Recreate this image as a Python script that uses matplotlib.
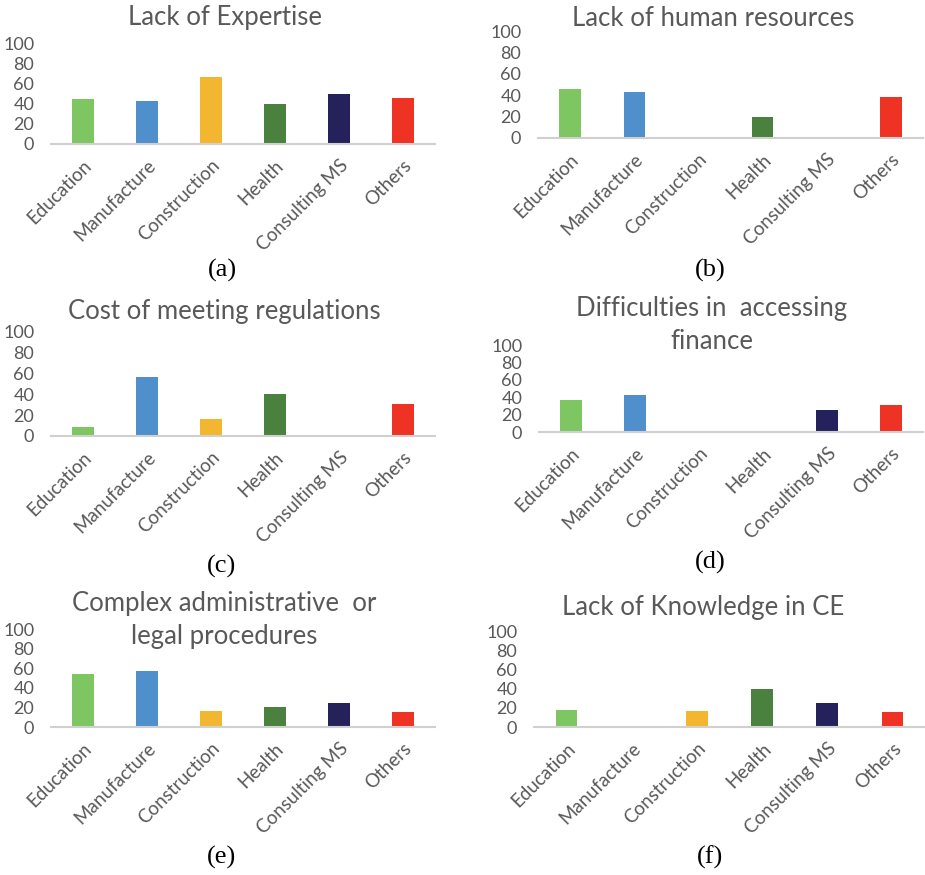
import matplotlib
matplotlib.use("Agg")
import matplotlib.pyplot as plt

categories = ["Education", "Manufacture", "Construction", "Health", "Consulting MS", "Others"]
colors = ["#7DC661", "#4F8FCC", "#F3B631", "#4A813F", "#25225B", "#EE3224"]

titles = [
    "Lack of Expertise",
    "Lack of human resources",
    "Cost of meeting regulations",
    "Difficulties in  accessing\nfinance",
    "Complex administrative  or\nlegal procedures",
    "Lack of Knowledge in CE",
]
captions = ["(a)", "(b)", "(c)", "(d)", "(e)", "(f)"]

lack_expertise = [45.5, 42.9, 66.7, 40.0, 50.0, 46.2]
lack_human_resources = [45.5, 42.9, 0.0, 20.0, 0.0, 38.5]
cost_regulations = [9.1, 57.1, 16.7, 40.0, 0.0, 30.8]
access_finance = [36.4, 42.9, 0.0, 0.0, 25.0, 30.8]
complex_procedures = [54.5, 57.1, 16.7, 20.0, 25.0, 15.4]
lack_knowledge_ce = [18.2, 0.0, 16.7, 40.0, 25.0, 15.4]
yticks = [0, 20, 40, 60, 80, 100]

series = [lack_expertise, lack_human_resources, cost_regulations,
          access_finance, complex_procedures, lack_knowledge_ce]

W, H = 925, 875
fig = plt.figure(figsize=(W / 100, H / 100), dpi=100)
fig.patch.set_facecolor("white")

FONT = ["Lato", "DejaVu Sans"]
GRAY = "#595959"

# axes boxes in pixels: (x_left, x_right, y_top(100), y_bottom(0))
boxes = [
    (51, 435, 44, 144),
    (538, 923, 31, 138),
    (51, 435, 332, 436),
    (539, 923, 345, 432),
    (51, 435, 629, 727),
    (534, 925, 631, 727),
]
title_pos = [
    (225, 18), (713, 18), (224, 311), (712, 325), (224, 620), (703, 608)
]
caption_pos = [
    (222, 270), (710, 270), (222, 566), (710, 562), (222, 857), (710, 857)
]

def fx(x):
    return x / W

def fy(y):
    return 1 - y / H

for i in range(6):
    xl, xr, yt, yb = boxes[i]
    ax = fig.add_axes([fx(xl), fy(yb), (xr - xl) / W, (yb - yt) / H])
    ax.bar(range(len(categories)), series[i], width=0.33, color=colors, zorder=2)
    ax.set_xlim(-0.5, len(categories) - 0.5)
    ax.set_ylim(0, 100)
    ax.set_yticks(yticks)
    ax.set_yticklabels([str(t) for t in yticks], fontsize=13, color=GRAY, family=FONT)
    ax.set_xticks(range(len(categories)))
    ax.set_xticklabels(categories, rotation=45, ha="right", rotation_mode="anchor",
                       fontsize=13.5, color=GRAY, family=FONT)
    ax.tick_params(axis="both", length=0)
    ax.tick_params(axis="x", pad=9)
    ax.tick_params(axis="y", pad=12)
    for s in ["top", "right", "left"]:
        ax.spines[s].set_visible(False)
    ax.spines["bottom"].set_color("#D0D0D0")
    ax.spines["bottom"].set_linewidth(1.5)
    ax.patch.set_alpha(0)

    tx, ty = title_pos[i]
    fig.text(fx(tx), fy(ty), titles[i], ha="center", va="center", fontsize=18.5,
             color=GRAY, family=FONT, linespacing=1.42)
    cx, cy = caption_pos[i]
    fig.text(fx(cx), fy(cy), captions[i], ha="center", va="center", fontsize=19,
             color="black", family=["Liberation Serif", "DejaVu Serif"])

fig.savefig("out.png", dpi=100, facecolor="white")
